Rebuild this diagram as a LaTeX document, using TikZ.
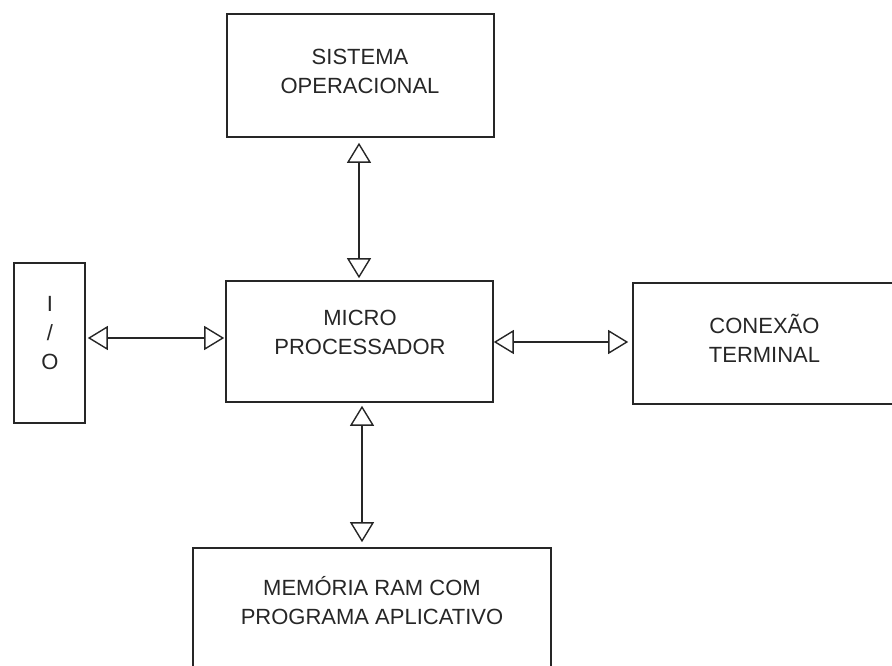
\documentclass[tikz,border=0pt]{standalone}
\usepackage{fontspec}
\setmainfont{Liberation Sans}
\usetikzlibrary{arrows.meta}
\begin{document}
\begin{tikzpicture}[x=1pt,y=-1pt,
  block/.style={draw=black!85, line width=1.6pt, inner sep=0pt},
  label/.style={align=center, font=\fontsize{22}{29}\selectfont, text=black!85, inner sep=0pt},
  link/.style={draw=black!85, line width=1.4pt,
    {Triangle[open,length=20pt,width=24pt,line width=1.4pt]}-{Triangle[open,length=20pt,width=24pt,line width=1.4pt]}}]
  \useasboundingbox (0,0) rectangle (892,666);

  % blocks
  \node[block, minimum width=267pt, minimum height=123pt] (so) at (360.5,75.5) {};
  \node[block, minimum width=267pt, minimum height=121pt] (mp) at (359.5,341.5) {};
  \node[block, minimum width=71pt, minimum height=160pt] (io) at (49.5,343) {};
  \node[block, minimum width=263pt, minimum height=121pt] (ct) at (764.5,343.5) {};
  \node[block, minimum width=358pt, minimum height=152pt] (ram) at (372,624) {};

  % block texts
  \node[label] (soT) at (360,71) {SISTEMA\\OPERACIONAL};
  \node[label] (mpT) at (360,332) {MICRO\\PROCESSADOR};
  \node[label] (ioT) at (50,333) {I\\/\\O};
  \node[label] (ctT) at (764.5,338) {CONEXÃO\\TERMINAL};
  \node[label] (ramT) at (372,601) {MEMÓRIA RAM COM\\PROGRAMA APLICATIVO};

  % connections
  \coordinate (a1) at ([xshift=-1.5pt,yshift=-5pt]so.south);
  \coordinate (a2) at ([yshift=2pt]mp.north -| a1);
  \draw[link] (a1) -- (a2);

  \coordinate (b1) at ([xshift=2pt,yshift=5pt]io.east);
  \coordinate (b2) at ([xshift=-1pt]mp.west |- b1);
  \draw[link] (b1) -- (b2);

  \coordinate (c1) at ([yshift=-0.5pt]mp.east);
  \coordinate (c2) at ([xshift=-4pt]ct.west |- c1);
  \draw[link] (c1) -- (c2);

  \coordinate (d1) at ([xshift=2.5pt,yshift=-3pt]mp.south);
  \coordinate (d2) at ([yshift=5pt]ram.north -| d1);
  \draw[link] (d1) -- (d2);
\end{tikzpicture}
\end{document}
